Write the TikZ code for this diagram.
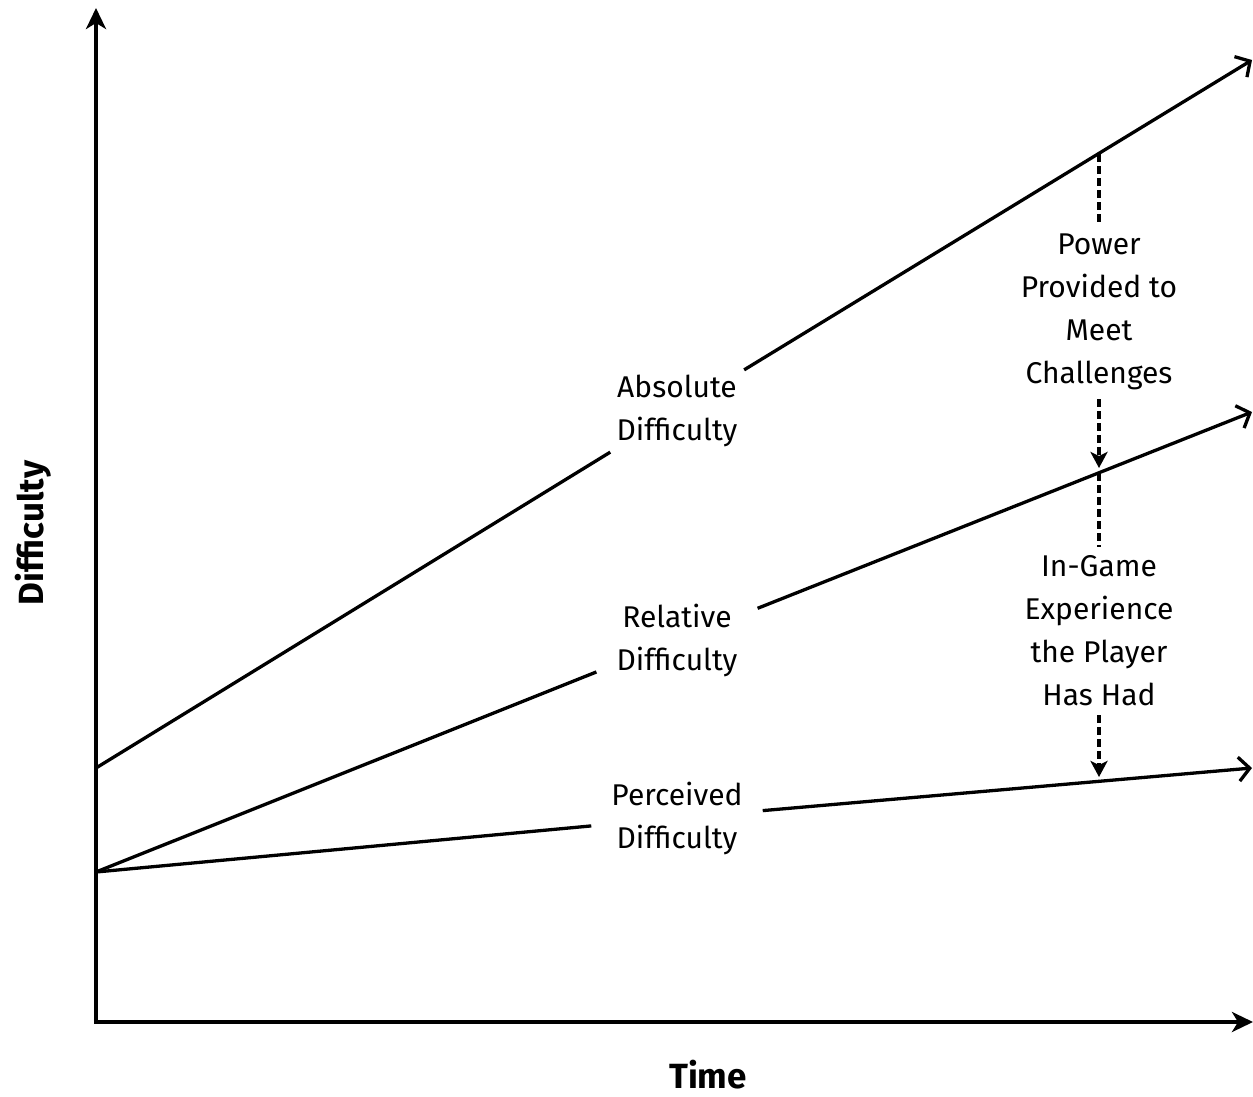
\documentclass[tikz,border=0pt]{standalone}
\usepackage{fontspec}
\setmainfont{Fira Sans}
\usetikzlibrary{arrows.meta}
\begin{document}
\begin{tikzpicture}[x=1pt,y=-1pt,
  axis/.style={line width=4.2pt,-{Stealth[length=21pt,width=20pt,inset=6pt]}},
  curve/.style={line width=3.3pt},
  curvearrow/.style={line width=3.3pt,-{Straight Barb[length=11pt,width=24pt,line width=3.3pt]}},
  dashline/.style={line width=3.6pt,dash pattern=on 8pt off 4pt},
  dasharrow/.style={line width=3.6pt,dash pattern=on 8pt off 4pt,-{Stealth[length=16pt,width=17pt,inset=4pt]}},
  lbl/.style={align=center,font=\fontsize{30}{43}\selectfont,inner xsep=20pt,inner ysep=5pt},
  note/.style={align=center,font=\fontsize{30}{43}\selectfont,inner xsep=4pt,inner ysep=9pt},
  axlbl/.style={font=\fontsize{35}{40}\selectfont\bfseries,inner sep=0pt}]
\useasboundingbox (0,0) rectangle (1253,1097);
% axes
\coordinate (O) at (96,1022);
\coordinate (ytop) at (96,8);
\coordinate (xend) at (1253,1022);
\draw[axis] ([yshift=2.1pt]O) -- (ytop);
\draw[axis] ([xshift=-2.1pt]O) -- (xend);
\node[axlbl,rotate=90] (ylab) at (33,533) {Difficulty};
\node[axlbl,anchor=base] (xlab) at (708,1088) {Time};
% lines
\coordinate (a0) at (96,768);
\coordinate (a1) at (1252,60);
\coordinate (r0) at (96,872);
\coordinate (r1) at (1252,412);
\coordinate (p1) at (1252,768);
\node[lbl] (absL) at (677,411) {Absolute\\Difficulty};
\node[lbl] (relL) at (677,640) {Relative\\Difficulty};
\node[lbl] (perL) at (677,818) {Perceived\\Difficulty};
\draw[curve] (a0) -- (absL);
\draw[curvearrow] (absL) -- (a1);
\draw[curve] (r0) -- (relL);
\draw[curvearrow] (relL) -- (r1);
\draw[curve] (r0) -- (perL);
\draw[curvearrow] (perL) -- (p1);
% dashed annotations
\coordinate (pa) at (1099,154);
\coordinate (pr) at (1099,473);
\coordinate (pp) at (1099,782);
\node[note] (power) at (1099,312) {Power\\Provided to\\Meet\\Challenges};
\node[note] (exp) at (1099,631) {In-Game\\Experience\\the Player\\Has Had};
\draw[dashline] (pa) -- (power);
\draw[dasharrow,shorten >=5pt] (power) -- (pr);
\draw[dashline] (pr) -- (exp);
\draw[dasharrow,shorten >=5pt] (exp) -- (pp);
\end{tikzpicture}
\end{document}
